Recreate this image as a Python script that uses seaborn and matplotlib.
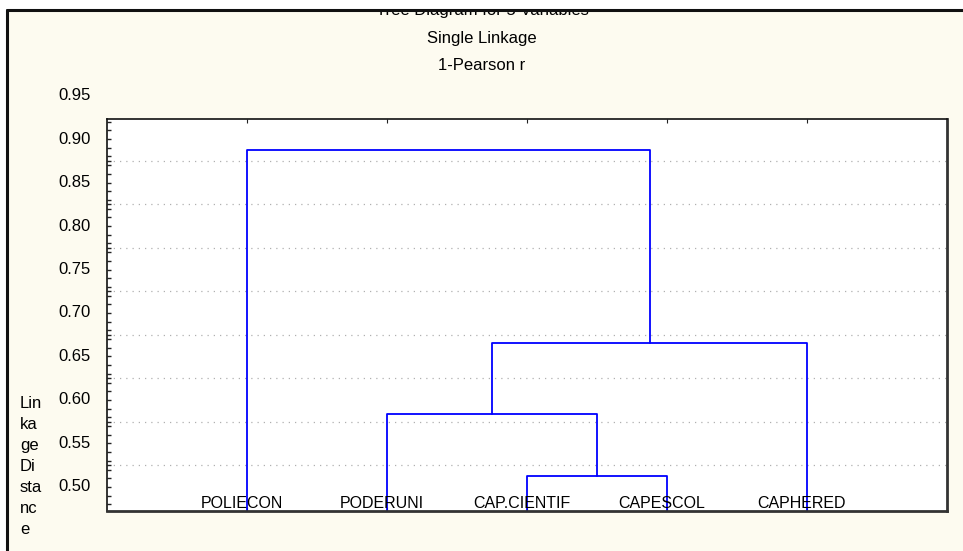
import numpy as np
import pandas as pd
import matplotlib
matplotlib.use("Agg")
import matplotlib.pyplot as plt
from matplotlib.patches import Rectangle
from matplotlib.ticker import MultipleLocator
import seaborn as sns

# leaves in plotting order and the merge steps (single linkage, 1-Pearson r)
leaves = ["POLIECON", "PODERUNI", "CAP.CIENTIF", "CAPESCOL", "CAPHERED"]
merge_a = ["CAP.CIENTIF", "PODERUNI", "C2", "POLIECON"]
merge_b = ["CAPESCOL", "C1", "CAPHERED", "C3"]
merge_h = [0.513, 0.584, 0.666, 0.887]

tick_vals = [0.50, 0.55, 0.60, 0.65, 0.70, 0.75, 0.80, 0.85, 0.90, 0.95]
grid_vals = [0.525, 0.575, 0.625, 0.675, 0.725, 0.775, 0.825, 0.875]
y_min, y_max = 0.4724, 0.923

sns.set_style("white")
plt.rcParams["font.family"] = ["Liberation Sans", "DejaVu Sans"]
plt.rcParams["text.color"] = "black"

# build the link segments
pos = {name: i + 1 for i, name in enumerate(leaves)}
hgt = {name: y_min for name in leaves}
rows = []
for k, (a, b, h) in enumerate(zip(merge_a, merge_b, merge_h)):
    xa, xb = pos[a], pos[b]
    pts = [(xa, hgt[a]), (xa, h), (xb, h), (xb, hgt[b])]
    for j, (x, y) in enumerate(pts):
        rows.append({"link": k, "order": j, "x": x, "y": y})
    name = "C%d" % (k + 1)
    pos[name] = (xa + xb) / 2
    hgt[name] = h
links = pd.DataFrame(rows)

fig = plt.figure(figsize=(9.63, 5.51), dpi=100)
fig.patch.set_facecolor("white")
fig.patches.append(Rectangle((7 / 963, -0.1), 1.2, 0.1 + 541 / 551,
                             transform=fig.transFigure, facecolor="#fdfbf0",
                             edgecolor="none", zorder=-1))
# white strip above the panel hides the top of the cut title
fig.patches.append(Rectangle((0, 541 / 551), 1, 10 / 551,
                             transform=fig.transFigure, facecolor="white",
                             edgecolor="none", zorder=10))
fig.lines.append(plt.Line2D([7 / 963, 1.0], [541 / 551, 541 / 551],
                            transform=fig.transFigure, color="#111111",
                            lw=2.2, zorder=11))
fig.lines.append(plt.Line2D([7 / 963, 7 / 963], [0, 541 / 551],
                            transform=fig.transFigure, color="#111111",
                            lw=2.2, zorder=11))

ax = fig.add_axes([107 / 963, 40 / 551, 840 / 963, 392 / 551])
ax.set_facecolor("white")

sns.lineplot(data=links, x="x", y="y", units="link", estimator=None,
             sort=False, color="#0000ff", lw=1.3, ax=ax, legend=False)

ax.set_xlim(0, len(leaves) + 1)
ax.set_ylim(y_min, y_max)
ax.set_xlabel("")
ax.set_ylabel("")

# leaf names sit inside the plot on the bottom edge
for name in leaves:
    ax.text(pos[name] - 0.04, y_min, name, ha="center", va="bottom",
            fontsize=11.5, color="black")

# y axis: gridlines between labels, labels drawn as text
ax.set_yticks(grid_vals)
ax.set_yticklabels([])
ax.yaxis.set_minor_locator(MultipleLocator(0.01))
ax.tick_params(axis="y", which="both", direction="in", length=3, width=1,
               left=True, color="#222222")
ax.grid(axis="y", which="major", ls=(0, (1, 4)), color="#b0b0b0", lw=0.9)
for v in tick_vals:
    ax.text(-0.019, v, "%.2f" % v, transform=ax.get_yaxis_transform(),
            ha="right", va="center", fontsize=12, clip_on=False)

ax.set_xticks([pos[n] for n in leaves])
ax.set_xticklabels([])
ax.tick_params(axis="x", which="both", direction="in", length=3,
               top=True, bottom=True, color="#222222")

for s in ["left", "top"]:
    ax.spines[s].set_color("#111111")
    ax.spines[s].set_linewidth(1.2)
for s in ["right", "bottom"]:
    ax.spines[s].set_color("#333333")
    ax.spines[s].set_linewidth(2)

fig.text(482 / 963, 1 - 10 / 551, "Tree Diagram for 5 Variables", ha="center",
         va="center", fontsize=12)
fig.text(482 / 963, 1 - 38 / 551, "Single Linkage", ha="center", va="center",
         fontsize=12)
fig.text(482 / 963, 1 - 66 / 551, "1-Pearson r", ha="center", va="center",
         fontsize=12)
fig.text(20 / 963, 1 - 396 / 551, "Lin\nka\nge\nDi\nsta\nnc\ne", ha="left",
         va="top", fontsize=12, linespacing=1.5)

fig.savefig("out.png", dpi=100)
